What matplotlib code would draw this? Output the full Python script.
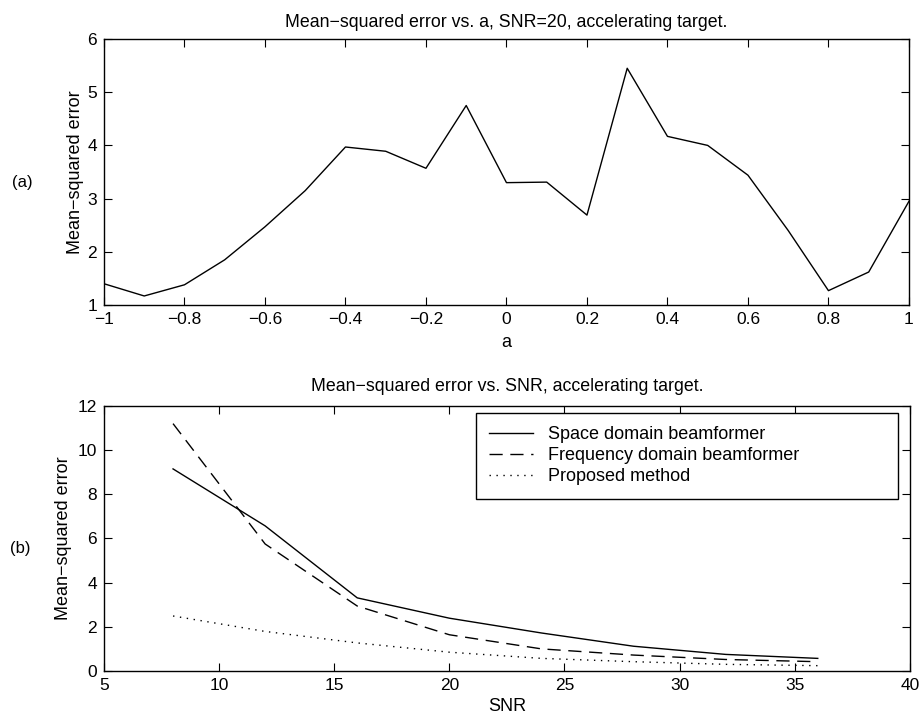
import matplotlib
matplotlib.use("Agg")
import matplotlib.pyplot as plt
import numpy as np

plt.rcParams['font.family'] = ['Liberation Sans', 'DejaVu Sans']

# Panel (a)
a_vals = [-1.0, -0.9, -0.8, -0.7, -0.6, -0.5, -0.4, -0.3, -0.2, -0.1, 0.0,
          0.1, 0.2, 0.3, 0.4, 0.5, 0.6, 0.7, 0.8, 0.9, 1.0]
mse_a = [1.40, 1.17, 1.38, 1.85, 2.47, 3.15, 3.97, 3.89, 3.57, 4.75, 3.30,
         3.31, 2.69, 5.45, 4.17, 4.00, 3.44, 2.40, 1.27, 1.62, 2.95]

# Panel (b)
snr = [8, 12, 16, 20, 24, 28, 32, 36]
space = [9.15, 6.57, 3.31, 2.39, 1.72, 1.12, 0.75, 0.57]
freq = [11.2, 5.75, 2.94, 1.64, 1.00, 0.72, 0.52, 0.42]
proposed = [2.49, 1.79, 1.27, 0.85, 0.57, 0.42, 0.30, 0.24]

a_ticks = [-1, -0.8, -0.6, -0.4, -0.2, 0, 0.2, 0.4, 0.6, 0.8, 1]
a_ticklabels = ['\u22121', '\u22120.8', '\u22120.6', '\u22120.4', '\u22120.2', '0',
                '0.2', '0.4', '0.6', '0.8', '1']

fig = plt.figure(figsize=(9.2, 7.17), dpi=100)

def style(ax):
    ax.tick_params(direction='in', top=True, right=True, length=6, width=0.8,
                   labelsize=12.5, pad=5)
    for s in ax.spines.values():
        s.set_linewidth(1.0)

ax1 = fig.add_axes([0.113, 0.5746, 0.875, 0.371])
ax1.plot(a_vals, mse_a, color='black', lw=1.0)
ax1.set_xlim(-1, 1)
ax1.set_ylim(1, 6)
ax1.set_xticks(a_ticks)
ax1.set_xticklabels(a_ticklabels)
ax1.set_yticks([1, 2, 3, 4, 5, 6])
ax1.set_xlabel('a', fontsize=13, labelpad=5)
ax1.set_ylabel('Mean\u2212squared error', fontsize=13, labelpad=2)
ax1.set_title('Mean\u2212squared error vs. a, SNR=20, accelerating target.',
              fontsize=12.8, pad=9)
style(ax1)

ax2 = fig.add_axes([0.113, 0.0642, 0.876, 0.3696])
ax2.plot(snr, space, color='black', lw=1.0, ls='-', label='Space domain beamformer')
ax2.plot(snr, freq, color='black', lw=1.0, ls=(0, (9.5, 5.5)), label='Frequency domain beamformer')
ax2.plot(snr, proposed, color='black', lw=1.0, ls=(0, (1, 4)), label='Proposed method')
ax2.set_xlim(5, 40)
ax2.set_ylim(0, 12)
ax2.set_xticks([5, 10, 15, 20, 25, 30, 35, 40])
ax2.set_yticks([0, 2, 4, 6, 8, 10, 12])
ax2.set_xlabel('SNR', fontsize=13, labelpad=4)
ax2.set_ylabel('Mean\u2212squared error', fontsize=13, labelpad=4)
ax2.set_title('Mean\u2212squared error vs. SNR, accelerating target.',
              fontsize=12.8, pad=11)
style(ax2)
leg = ax2.legend(loc='upper left', bbox_to_anchor=(0.4615, 0.653, 0.5235, 0.321),
                 mode='expand', borderaxespad=0,
                 fontsize=13, fancybox=False, framealpha=1, edgecolor='black',
                 handlelength=2.4, labelspacing=0.22, borderpad=0.75,
                 handletextpad=0.85)
leg.get_frame().set_linewidth(1.0)

fig.text(0.013, 1 - 182 / 717, '(a)', fontsize=12, va='center')
fig.text(0.011, 1 - 548 / 717, '(b)', fontsize=12, va='center')

fig.savefig('out.png', dpi=100)
